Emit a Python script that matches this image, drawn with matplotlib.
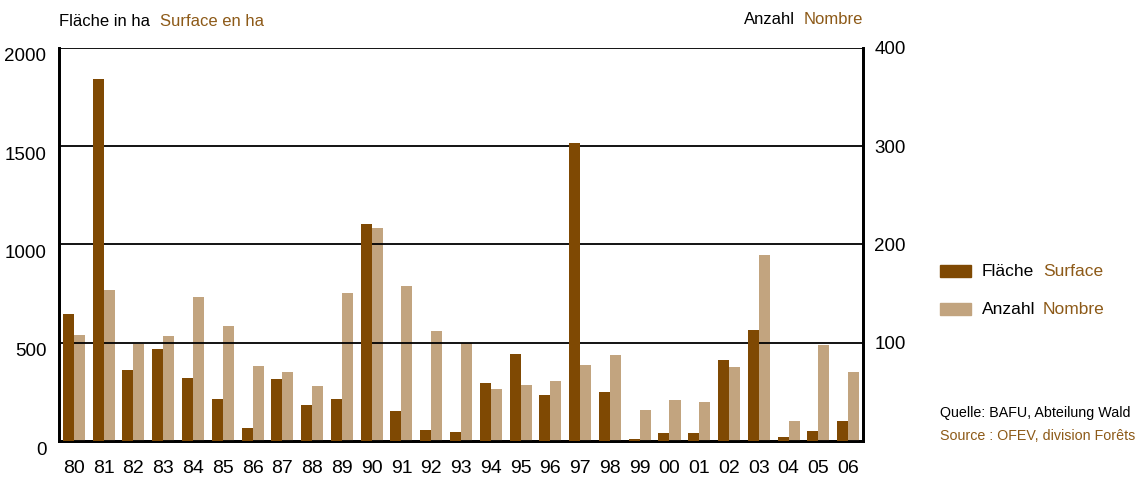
import matplotlib
matplotlib.use('Agg')

from matplotlib import pyplot as plt
from matplotlib.patches import Rectangle
import matplotlib.transforms as mtransforms
import numpy as np

plt.rcParams['font.family'] = ['Liberation Sans', 'DejaVu Sans']

years = ["80", "81", "82", "83", "84", "85", "86", "87", "88", "89",
         "90", "91", "92", "93", "94", "95", "96", "97", "98", "99",
         "00", "01", "02", "03", "04", "05", "06"]
# Fläche / Surface (ha), left axis
surface = [646, 1842, 361, 468, 321, 214, 66, 316, 183, 214,
           1104, 153, 56, 46, 295, 443, 234, 1517, 249, 10,
           41, 41, 412, 565, 20, 51, 102]
# Anzahl / Nombre, right axis
count = [108, 154, 99, 107, 147, 117, 76, 70, 56, 151,
         217, 158, 112, 100, 53, 57, 61, 77, 88, 32,
         42, 40, 75, 189, 20, 98, 70]

dark = '#7f4903'
light = '#c2a47f'
gold = '#8d5a18'

fig = plt.figure(figsize=(11.41, 4.78), dpi=100)
ax = fig.add_axes([0.0517, 0.0774, 0.7047, 0.8222])
ax2 = ax.twinx()

x = np.arange(len(years))
w = 0.37
ax.bar(x - w/2, surface, w, color=dark, zorder=3)
ax2.bar(x + w/2, count, w, color=light, zorder=3)

ax.set_xlim(-0.5, len(years) - 0.5)
ax.set_ylim(0, 2000)
ax2.set_ylim(0, 400)

ax.set_yticks([0, 500, 1000, 1500, 2000])
ax2.set_yticks([100, 200, 300, 400])
for v in [500, 1000, 1500, 2000]:
    ax.axhline(v, color='black', lw=1.3, zorder=1)

ax.set_xticks(x)
ax.set_xticklabels(years)
ax.tick_params(axis='x', length=0, pad=14, labelsize=14)
ax.tick_params(axis='y', length=0, pad=9, labelsize=13.5)
ax2.tick_params(axis='y', length=0, pad=8, labelsize=13.5)

for a in (ax, ax2):
    a.spines['top'].set_visible(False)
    for s in ('left', 'right', 'bottom'):
        a.spines[s].set_linewidth(2)
ax.set_zorder(ax2.get_zorder() + 1)
ax.patch.set_visible(False)

# left tick labels sit a little below their gridlines
off = mtransforms.ScaledTranslation(0, -7/100, fig.dpi_scale_trans)
for lbl in ax.get_yticklabels():
    lbl.set_transform(lbl.get_transform() + off)

# headers
fig.text(59/1141, 1 - 22/478, "Fläche in ha", fontsize=12, va='center', ha='left')
fig.text(160/1141, 1 - 22/478, "Surface en ha", fontsize=12, va='center', ha='left', color=gold)
fig.text(744/1141, 1 - 20/478, "Anzahl", fontsize=12, va='center', ha='left')
fig.text(863/1141, 1 - 20/478, "Nombre", fontsize=12, va='center', ha='right', color=gold)

# legend
for (col, y, de, fr) in [(dark, 271, "Fläche", "Surface"), (light, 309, "Anzahl", "Nombre")]:
    fig.patches.append(Rectangle((940/1141, 1 - (y + 6)/478), 31/1141, 12/478,
                                 transform=fig.transFigure, color=col))
    fig.text(982/1141, 1 - y/478, de, fontsize=12.5, va='center', ha='left')
    fig.text(1043/1141, 1 - y/478, fr, fontsize=12.5, va='center', ha='left', color=gold)

# source
fig.text(940/1141, 1 - 413/478, "Quelle: BAFU, Abteilung Wald", fontsize=10.3, va='center', ha='left')
fig.text(940/1141, 1 - 436/478, "Source : OFEV, division Forêts", fontsize=10.3, va='center',
         ha='left', color=gold)

fig.savefig('out.png', dpi=100)
